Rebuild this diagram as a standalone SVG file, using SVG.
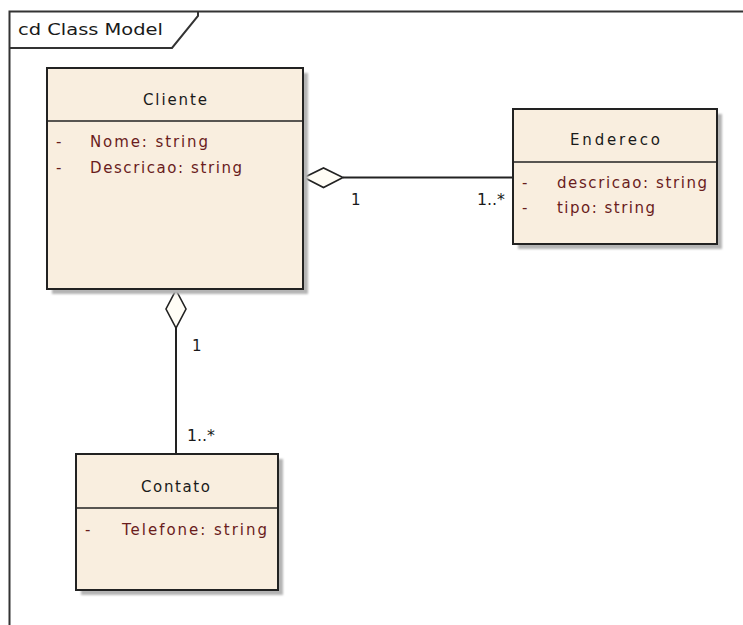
<svg xmlns="http://www.w3.org/2000/svg" width="743" height="625" viewBox="0 0 743 625">
  <style>
    .frame { fill: none; stroke: #333; stroke-width: 2; }
    .box { fill: #f9eedf; stroke: #222; stroke-width: 2; }
    .shadow { fill: #b4b4b4; }
    .div { stroke: #222; stroke-width: 1.6; }
    .title { font-family: "DejaVu Sans", Verdana, sans-serif; font-size: 15px; fill: #1a1a1a; }
    .attr { font-family: "DejaVu Sans", Verdana, sans-serif; font-size: 15px; fill: #6a1c1c; }
    .lbl { font-family: "DejaVu Sans", Verdana, sans-serif; font-size: 15px; fill: #1a1a1a; }
    .edge { fill: none; stroke: #222; stroke-width: 2; }
    .diamond { fill: #fffdf6; stroke: #222; stroke-width: 1.6; }
  </style>
  <filter id="soft" x="-10%" y="-10%" width="130%" height="130%">
    <feGaussianBlur stdDeviation="1.2"/>
  </filter>

  <rect width="743" height="625" fill="#ffffff"/>

  <!-- package frame -->
  <g id="frame">
    <path class="frame" d="M9.5,625 V11.5 H743"/>
    <path class="frame" d="M9.5,48 H172 L198,16 V11.5"/>
    <text class="title" x="18" y="35" textLength="145" lengthAdjust="spacingAndGlyphs">cd Class Model</text>
  </g>

  <!-- connectors -->
  <g id="connectors">
    <line class="edge" x1="343" y1="177.5" x2="513" y2="177.5"/>
    <polygon class="diamond" points="304,177.5 323.5,168 343,177.5 323.5,187.5"/>
    <text class="lbl" x="351" y="205">1</text>
    <text class="lbl" x="477" y="205" textLength="28" lengthAdjust="spacingAndGlyphs">1..*</text>

    <line class="edge" x1="176" y1="328" x2="176" y2="455"/>
    <polygon class="diamond" points="176,290 186,309 176,328 166,309"/>
    <text class="lbl" x="192" y="351">1</text>
    <text class="lbl" x="187" y="441" textLength="28" lengthAdjust="spacingAndGlyphs">1..*</text>
  </g>

  <!-- Cliente -->
  <g id="Cliente">
    <rect class="shadow" x="52" y="73" width="256" height="221" filter="url(#soft)"/>
    <rect class="box" x="47" y="68" width="256" height="221"/>
    <line class="div" x1="47" y1="121" x2="303" y2="121"/>
    <text class="title" x="143" y="105" textLength="64" lengthAdjust="spacing">Cliente</text>
    <text class="attr" x="56" y="147">-</text>
    <text class="attr" x="90" y="147" textLength="118" lengthAdjust="spacing">Nome:  string</text>
    <text class="attr" x="56" y="173">-</text>
    <text class="attr" x="90" y="173" textLength="152" lengthAdjust="spacing">Descricao:  string</text>
  </g>

  <!-- Endereco -->
  <g id="Endereco">
    <rect class="shadow" x="518" y="114" width="204" height="135" filter="url(#soft)"/>
    <rect class="box" x="513" y="109" width="204" height="135"/>
    <line class="div" x1="513" y1="162" x2="717" y2="162"/>
    <text class="title" x="570" y="145" textLength="90" lengthAdjust="spacing">Endereco</text>
    <text class="attr" x="522" y="188">-</text>
    <text class="attr" x="557" y="188" textLength="150" lengthAdjust="spacing">descricao:  string</text>
    <text class="attr" x="522" y="213">-</text>
    <text class="attr" x="557" y="213" textLength="98" lengthAdjust="spacing">tipo:  string</text>
  </g>

  <!-- Contato -->
  <g id="Contato">
    <rect class="shadow" x="81" y="459" width="202" height="136" filter="url(#soft)"/>
    <rect class="box" x="76" y="454" width="202" height="136"/>
    <line class="div" x1="76" y1="508" x2="278" y2="508"/>
    <text class="title" x="141" y="492" textLength="69" lengthAdjust="spacing">Contato</text>
    <text class="attr" x="85" y="535">-</text>
    <text class="attr" x="122" y="535" textLength="145" lengthAdjust="spacing">Telefone:  string</text>
  </g>
</svg>
